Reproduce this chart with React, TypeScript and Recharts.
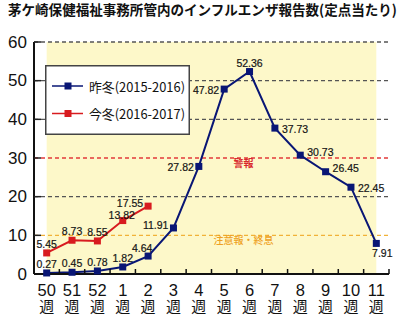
import React from 'react';
import { LineChart, Line, XAxis, YAxis, ReferenceLine, ReferenceArea, LabelList } from 'recharts';

const title = '茅ケ崎保健福祉事務所管内のインフルエンザ報告数(定点当たり)';
const weeks = ['50', '51', '52', '1', '2', '3', '4', '5', '6', '7', '8', '9', '10', '11'];
const weekSuffix = '週';
const lastWinter = [0.27, 0.45, 0.78, 1.82, 4.64, 11.91, 27.82, 47.82, 52.36, 37.73, 30.73, 26.45, 22.45, 7.91];
const thisWinter = [5.45, 8.73, 8.55, 13.82, 17.55];
const seriesNames = ['昨冬(2015-2016)', '今冬(2016-2017)'];
const yTicks = [0, 10, 20, 30, 40, 50, 60];
const alertLevel = 30;
const alertText = '警報';
const cautionLevel = 10;
const cautionText = '注意報・終息';

// label placement styles (not data)
const lastLabelPos = ['top', 'top', 'top', 'top', 'topLeft', 'leftUp', 'left', 'left', 'top', 'right', 'rightUp', 'rightUp', 'right', 'bottomRight'];
const thisLabelPos = ['top', 'top', 'top', 'topNear', 'leftUp'];

const data = weeks.map((w, i) => ({
  week: w,
  last: lastWinter[i],
  cur: i < thisWinter.length ? thisWinter[i] : null,
}));

const W = 400;
const H = 321;
const M = { top: 42, right: 11, bottom: 0, left: 0 };
const Y_W = 34;
const X_H = 47;
const halfBand = (W - M.left - M.right - Y_W) / weeks.length / 2;

const NAVY = '#091675';
const RED = '#d81b1f';
const NUM_FONT = '"Liberation Sans", Arial, sans-serif';
const JP_FONT = '"Noto Sans CJK JP", sans-serif';

const Square = (color: string) => (props: any) => {
  const { cx, cy, value } = props;
  if (value == null || cx == null || cy == null) return null;
  return <rect x={cx - 3.5} y={cy - 3.5} width={7} height={7} fill={color} />;
};

const makeLabel = (positions: string[]) => (props: any) => {
  const { x, y, value, index } = props;
  if (value == null || x == null || y == null) return null;
  const pos = positions[index] || 'top';
  let dx = 0, dy = 0, anchor: any = 'middle';
  switch (pos) {
    case 'top': dy = -9; break;
    case 'topNear': dx = -1; dy = -6; break;
    case 'topLeft': dx = -6; dy = -8; break;
    case 'left': dx = -5; dy = 0.5; anchor = 'end'; break;
    case 'leftUp': dx = -5; dy = -3; anchor = 'end'; break;
    case 'right': dx = 7; dy = 0.5; anchor = 'start'; break;
    case 'rightUp': dx = 7; dy = -3.5; anchor = 'start'; break;
    case 'bottomRight': dx = 6; dy = 10; break;
  }
  return (
    <text x={x + dx} y={y + dy} textAnchor={anchor} dominantBaseline="central"
      fontFamily={NUM_FONT} fontSize={10.5} fill="#151515" stroke="#151515" strokeWidth={0.2}>
      {Number(value).toFixed(2)}
    </text>
  );
};

const YTick = (props: any) => {
  const { x, y, payload } = props;
  const axisX = x + 7;
  return (
    <g>
      <text x={x} y={y} textAnchor="end" dominantBaseline="central" fontFamily={NUM_FONT} fontSize={17} fill="#111">
        {payload.value}
      </text>
      {payload.value !== 0 && <line x1={axisX} x2={axisX + 7} y1={y} y2={y} stroke="#222" strokeWidth={1.5} />}
    </g>
  );
};

const XTick = (props: any) => {
  const { x, y, payload } = props;
  const bx = x + halfBand;
  return (
    <g>
      <line x1={bx} x2={bx} y1={y - 5} y2={y} stroke="#111" strokeWidth={1.5} />
      <text x={x} y={y + 21.5} textAnchor="middle" fontFamily={NUM_FONT} fontSize={16.5} fill="#111">
        {payload.value}
      </text>
      <text x={x} y={y + 37.5} textAnchor="middle" fontFamily={JP_FONT} fontSize={15} fill="#111">
        {weekSuffix}
      </text>
    </g>
  );
};

const LegendBox = () => {
  const colors = [NAVY, RED];
  return (
    <svg width={145} height={70} style={{ display: 'block' }}>
      <rect x={0.75} y={0.75} width={143.5} height={68.5} fill="#fff" stroke="#444" strokeWidth={1.5} />
      {seriesNames.map((n, i) => {
        const cy = 21 + i * 27.5;
        return (
          <g key={n}>
            <line x1={7} x2={38} y1={cy} y2={cy} stroke={colors[i]} strokeWidth={1.5} />
            <rect x={19.5} y={cy - 3.5} width={7} height={7} fill={colors[i]} />
            <text x={44} y={cy} dominantBaseline="central" fontFamily={JP_FONT} fontSize={13} fill="#111"
              textLength={96} lengthAdjust="spacingAndGlyphs">{n}</text>
          </g>
        );
      })}
    </svg>
  );
};

export default function App() {
  return (
    <div style={{ position: 'fixed', left: 0, top: 0, width: W, height: H, background: '#fff', overflow: 'hidden' }}>
      <svg width={W} height={20} style={{ position: 'absolute', left: 0, top: 0 }}>
        <text x={8} y={8.5} dominantBaseline="central" fontFamily={JP_FONT} fontWeight={700} fontSize={14} fill="#111"
          textLength={389} lengthAdjust="spacingAndGlyphs">{title}</text>
      </svg>
      <LineChart width={W} height={H} data={data} margin={M} style={{ position: 'absolute', left: 0, top: 0 }}>
        <ReferenceArea y1={0} y2={60} fill="#fdf8c9" fillOpacity={1} stroke="none" ifOverflow="hidden" />
        {yTicks.filter((t) => t > 0).map((t) => {
          const color = t === alertLevel ? '#e23a3a' : t === cautionLevel ? '#f1b238' : '#555';
          return <ReferenceLine key={t} y={t} stroke={color} strokeWidth={1.3} strokeDasharray="4 3" />;
        })}
        <ReferenceLine y={alertLevel} stroke="none"
          label={{ value: alertText, position: 'bottom', dx: 32, offset: 2, fill: '#d8262b', fontSize: 10, fontFamily: JP_FONT, fontWeight: 700 } as any} />
        <ReferenceLine y={cautionLevel} stroke="none"
          label={{ value: cautionText, position: 'bottom', dx: 32, offset: 2, fill: '#eea123', fontSize: 10, fontFamily: JP_FONT, fontWeight: 500 } as any} />
        <XAxis dataKey="week" height={X_H} tickLine={false} tickSize={0} tickMargin={0} interval={0}
          padding={{ left: halfBand, right: halfBand }}
          axisLine={{ stroke: '#111', strokeWidth: 2 }} tick={<XTick />} />
        <YAxis width={Y_W} domain={[0, 60]} ticks={yTicks} tickLine={false} tickSize={0} tickMargin={7}
          axisLine={{ stroke: '#111', strokeWidth: 2 }} tick={<YTick />} interval={0} />
        <Line dataKey="last" name={seriesNames[0]} stroke={NAVY} strokeWidth={2} dot={Square(NAVY)} activeDot={false}
          isAnimationActive={false}>
          <LabelList dataKey="last" content={makeLabel(lastLabelPos)} />
        </Line>
        <Line dataKey="cur" name={seriesNames[1]} stroke={RED} strokeWidth={2} dot={Square(RED)} activeDot={false}
          isAnimationActive={false} connectNulls={false}>
          <LabelList dataKey="cur" content={makeLabel(thisLabelPos)} />
        </Line>
      </LineChart>
      <div style={{ position: 'absolute', left: 45, top: 65 }}>
        <LegendBox />
      </div>
    </div>
  );
}
